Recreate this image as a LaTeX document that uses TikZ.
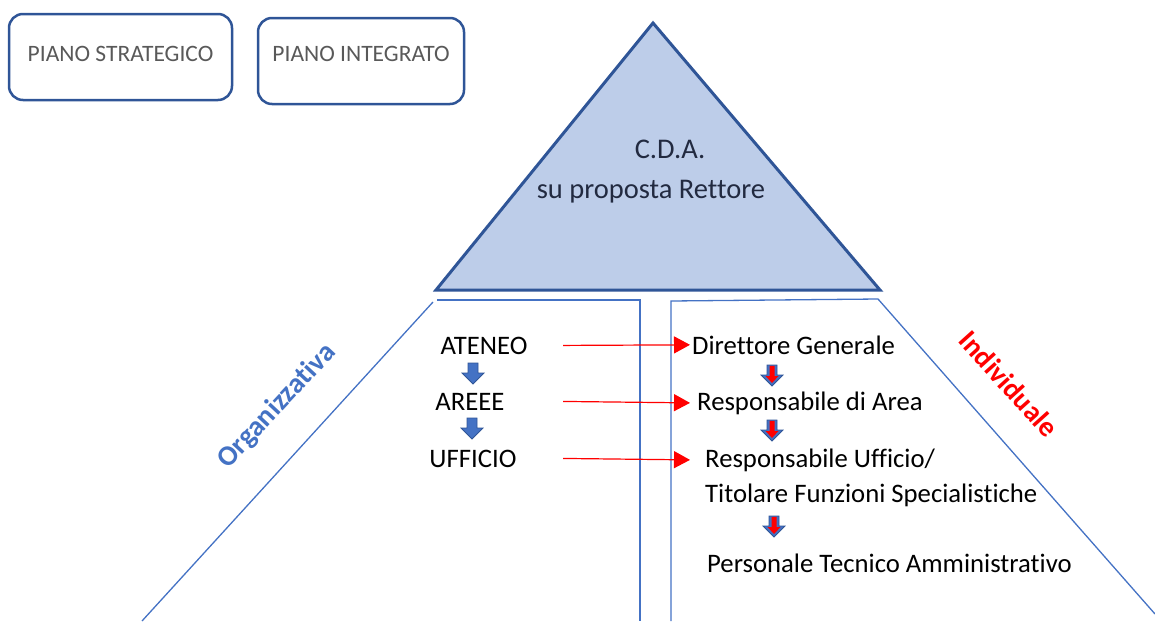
\documentclass[tikz,border=0pt]{standalone}
\usepackage{fontspec}
\setmainfont{Carlito}[Ligatures=NoCommon]
\usetikzlibrary{arrows.meta}
\definecolor{darkblue}{RGB}{47,85,151}
\definecolor{midblue}{RGB}{68,114,196}
\definecolor{paleblue}{RGB}{189,205,233}
\definecolor{boxgray}{RGB}{89,89,89}
\definecolor{navytext}{RGB}{34,42,64}
\begin{document}
\begin{tikzpicture}[x=1pt,y=-1pt,
	plan/.style={draw=darkblue,line width=2.5pt,rounded corners=14pt,text=boxgray,inner sep=0pt,
		font=\fontsize{23.5}{28}\selectfont},
	role/.style={inner sep=0pt,anchor=base west,font=\fontsize{26.7}{32}\selectfont},
	rung/.style={inner sep=0pt,anchor=base,font=\fontsize{26.7}{32}\selectfont},
	feed/.style={red,line width=1.2pt,-{Triangle[length=16pt,width=17pt]}},
	edgeline/.style={midblue,line width=1.3pt},
	downblue/.pic={\draw[fill=midblue,draw=darkblue,line width=0.8pt]
		(-5,0) -- (5,0) -- (5,10) -- (11,10) -- (0,21) -- (-11,10) -- (-5,10) -- cycle;},
	downred/.pic={\draw[fill=midblue,draw=darkblue,line width=0.8pt]
		(-5,0) -- (5,0) -- (5,10) -- (11,10) -- (0,21) -- (-11,10) -- (-5,10) -- cycle;
		\fill[red] (-2.5,0.8) -- (2.5,0.8) -- (2.5,11) -- (6.5,11) -- (0,18) -- (-6.5,11) -- (-2.5,11) -- cycle;}]
\useasboundingbox (0,0) rectangle (1155,621);
% plans
\node[plan,minimum width=223,minimum height=86,text depth=6pt] (strat) at (120.5,57) {PIANO STRATEGICO};
\node[plan,minimum width=206,minimum height=86,text depth=14pt] (integ) at (361,61) {PIANO INTEGRATO};
% pyramid top
\draw[fill=paleblue,draw=darkblue,line width=3pt] (653,23) -- (880,290) -- (436,290) -- cycle;
\node[rung,text=navytext,font=\fontsize{28.5}{34}\selectfont] (cda) at (670,158) {C.D.A.};
\node[rung,text=navytext,font=\fontsize{28.5}{34}\selectfont] (rett) at (651,198) {su proposta Rettore};
% two halves
\draw[edgeline] (437,300) -- (640,300) -- (640,621);
\draw[edgeline] (433,302) -- (142,621);
\draw[edgeline] (671,621) -- (671,301) -- (878,299) -- (1155,614);
\node[rotate=47,text=midblue,font=\bfseries\fontsize{28.5}{34}\selectfont] (org) at (277,406) {Organizzativa};
\node[rotate=-48,text=red,font=\bfseries\fontsize{28.5}{34}\selectfont] (ind) at (1009,384) {Individuale};
% organizzativa
\node[rung] (ateneo) at (484,354) {ATENEO};
\node[rung] (aree) at (470,410) {AREEE};
\node[rung] (uff) at (473,467) {UFFICIO};
\pic at (473,363) {downblue};
\pic at (472,418) {downblue};
% individuale
\node[role] (dg) at (692,354) {Direttore Generale};
\node[role] (rda) at (697,410) {Responsabile di Area};
\node[role] (ruf) at (705,467) {Responsabile Ufficio/};
\node[role] (tfs) at (705,502) {Titolare Funzioni Specialistiche};
\node[role] (pta) at (707,572) {Personale Tecnico Amministrativo};
\pic at (772,365) {downred};
\pic at (772,420) {downred};
\pic at (774,516) {downred};
% links
\coordinate (go) at (563,0);
\coordinate (tip) at (690,0);
\draw[feed] (ateneo.east -| go) -- (dg.west -| tip);
\draw[feed] (aree.east -| go) -- (rda.west -| tip);
\draw[feed] (uff.east -| go) -- (ruf.west -| tip);
\end{tikzpicture}
\end{document}
